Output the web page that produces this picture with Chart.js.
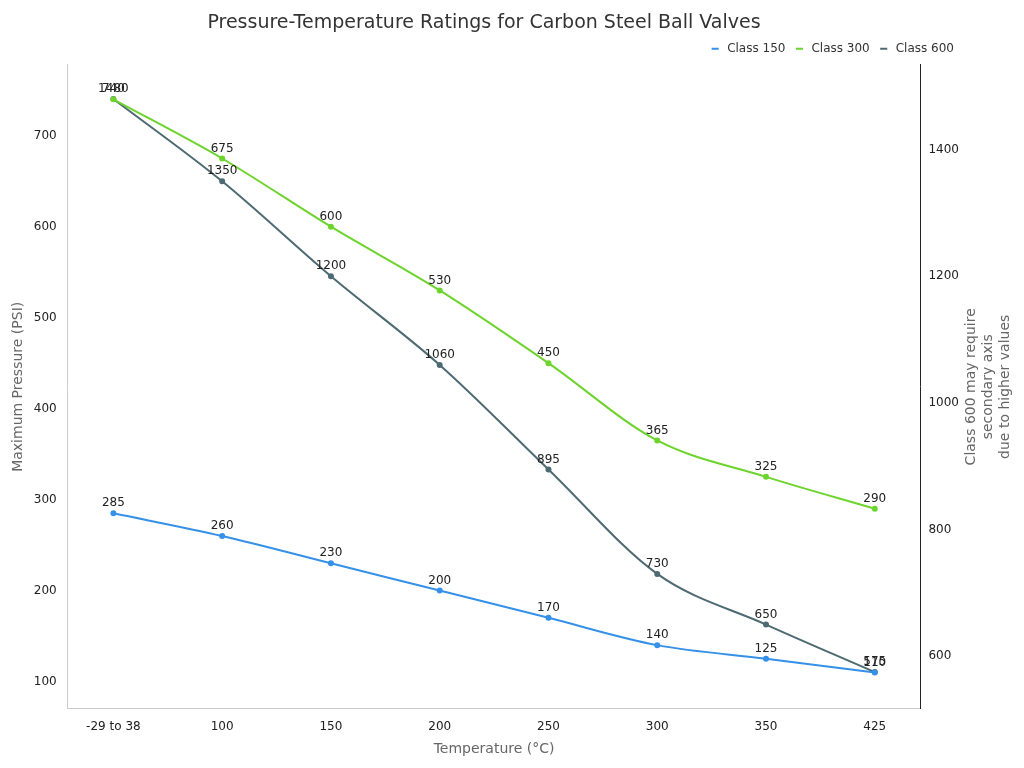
<!DOCTYPE html>
<html><head><meta charset="utf-8">
<script src="https://cdn.jsdelivr.net/npm/chart.js@4/dist/chart.umd.min.js"></script>
<style>html,body{margin:0;padding:0;background:#fff}#w{width:1024px;height:768px}</style>
</head><body><div id="w"><canvas id="c"></canvas></div>
<script>
const categories = ["-29 to 38","100","150","200","250","300","350","425"];
const class150 = [285,260,230,200,170,140,125,110];
const class300 = [740,675,600,530,450,365,325,290];
const class600 = [1480,1350,1200,1060,895,730,650,575];
const rightTitle = ["Class 600 may require","secondary axis","due to higher values"];

const toPts = arr => arr.map((v,i)=>({x:i,y:v}));
const F='"DejaVu Sans"';
const labelPlugin = {
  id:'lbl',
  afterDatasetsDraw(chart){
    const ctx=chart.ctx;
    ctx.save();
    ctx.font='12px '+F;
    ctx.fillStyle='#222';
    ctx.textAlign='center';
    ctx.textBaseline='bottom';
    chart.data.datasets.forEach((ds,di)=>{
      chart.getDatasetMeta(di).data.forEach((p,i)=>{
        ctx.fillText(String(ds.data[i].y), p.x, p.y-4);
      });
    });
    // right axis title, rotated -90
    const a=chart.chartArea;
    ctx.translate(988,(a.top+a.bottom)/2);
    ctx.rotate(-Math.PI/2);
    ctx.font='14px '+F;
    ctx.fillStyle='#666';
    ctx.textBaseline='middle';
    rightTitle.forEach((t,i)=>ctx.fillText(t,0,(i-1)*17));
    ctx.restore();
  }
};
new Chart(document.getElementById('c'),{
  type:'line',
  data:{datasets:[
    {label:'Class 150',data:toPts(class150),borderColor:'#3590e8',backgroundColor:'#3590e8',yAxisID:'y',borderWidth:2,pointRadius:2,cubicInterpolationMode:'monotone'},
    {label:'Class 300',data:toPts(class300),borderColor:'#6cd42c',backgroundColor:'#6cd42c',yAxisID:'y',borderWidth:2,pointRadius:2,cubicInterpolationMode:'monotone'},
    {label:'Class 600',data:toPts(class600),borderColor:'#4e6a72',backgroundColor:'#4e6a72',yAxisID:'y2',borderWidth:2,pointRadius:2,cubicInterpolationMode:'monotone'}
  ]},
  options:{
    responsive:true,maintainAspectRatio:false,animation:false,
    layout:{padding:{left:6,right:62,top:10,bottom:6}},
    plugins:{
      title:{display:true,text:'Pressure-Temperature Ratings for Carbon Steel Ball Valves',font:{family:F,size:19,weight:'normal'},color:'#333',padding:{top:2,bottom:0}},
      legend:{position:'top',align:'end',labels:{usePointStyle:true,pointStyle:'line',boxWidth:28,boxHeight:5,font:{family:F,size:12},color:'#333',padding:8}},
      tooltip:{enabled:false}
    },
    scales:{
      x:{type:'linear',min:-0.42,max:7.42,grid:{display:false},border:{color:'#ccc'},
        afterBuildTicks(ax){ax.ticks=categories.map((c,i)=>({value:i}));},
        ticks:{callback:(v)=>categories[v],font:{family:F,size:12},color:'#222',autoSkip:false,maxRotation:0},
        title:{display:true,text:'Temperature (°C)',font:{family:F,size:14},color:'#666'}},
      y:{position:'left',min:70,max:778,grid:{display:false},border:{color:'#ccc'},
        afterBuildTicks(ax){ax.ticks=[100,200,300,400,500,600,700].map(v=>({value:v}));},
        ticks:{font:{family:F,size:12},color:'#222'},
        title:{display:true,text:'Maximum Pressure (PSI)',font:{family:F,size:14},color:'#666'}},
      y2:{position:'right',min:517,max:1534,grid:{display:false,drawTicks:true,tickLength:5,tickColor:'#222'},border:{color:'#222'},
        afterBuildTicks(ax){ax.ticks=[600,800,1000,1200,1400].map(v=>({value:v}));},
        ticks:{callback:v=>String(v),font:{family:F,size:12},color:'#222'}}
    }
  },
  plugins:[labelPlugin]
});
</script></body></html>
